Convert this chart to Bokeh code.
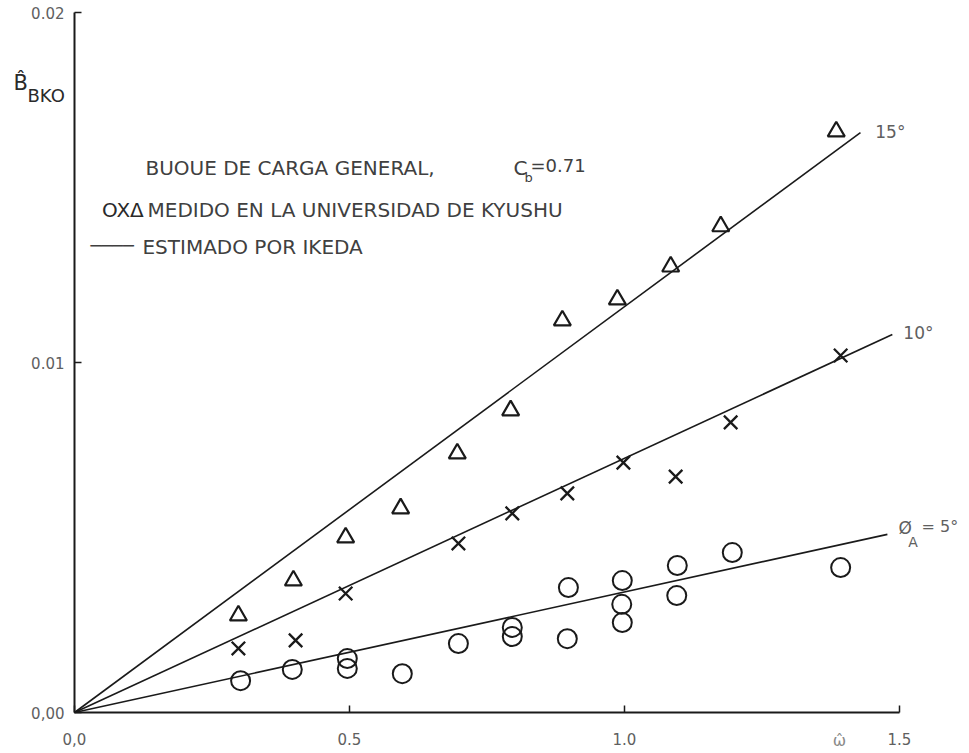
from bokeh.plotting import figure
from bokeh.models import Range1d, Label, FixedTicker
from bokeh.embed import file_html
from bokeh.resources import INLINE

# ---- data ----
# measured, phi_A = 15 deg (triangles)
tri_x = [0.298, 0.398, 0.493, 0.593, 0.696, 0.793, 0.887, 0.987, 1.084, 1.175, 1.385]
tri_y = [0.00277, 0.00377, 0.00500, 0.00583, 0.00740, 0.00863, 0.01120, 0.01180, 0.01274, 0.01389, 0.01660]
# measured, phi_A = 10 deg (crosses)
crs_x = [0.298, 0.402, 0.493, 0.698, 0.796, 0.896, 0.998, 1.093, 1.193, 1.393]
crs_y = [0.00183, 0.00206, 0.00340, 0.00483, 0.00569, 0.00626, 0.00714, 0.00674, 0.00829, 0.01020]
# measured, phi_A = 5 deg (circles)
cir_x = [0.302, 0.396, 0.496, 0.496, 0.596, 0.698, 0.796, 0.796, 0.898, 0.896,
         0.996, 0.995, 0.996, 1.096, 1.095, 1.196, 1.393]
cir_y = [0.00091, 0.00123, 0.00154, 0.00126, 0.00111, 0.00197, 0.00243, 0.00217, 0.00357, 0.00211,
         0.00377, 0.00309, 0.00257, 0.00420, 0.00334, 0.00457, 0.00414]
# Ikeda estimates (straight lines from the origin)
ik15_x = [0.0, 1.429]
ik15_y = [0.0, 0.01657]
ik10_x = [0.0, 1.487]
ik10_y = [0.0, 0.01080]
ik05_x = [0.0, 1.478]
ik05_y = [0.0, 0.00509]

x_ticks = [0.0, 0.5, 1.0, 1.5]
x_tick_labels = ["0,0", "0.5", "1.0", "1.5"]
y_ticks = [0.0, 0.01, 0.02]
y_tick_labels = ["0,00", "0.01", "0.02"]

FONT = "DejaVu Sans"
INK = "#1a1a1a"
TXT = "#404040"
LIGHT = "#606060"

# frame fills the whole figure; axes are pinned at the origin
p = figure(width=969, height=753, output_backend="svg", toolbar_location=None,
           x_range=Range1d(-74 / 550, 895 / 550),
           y_range=Range1d(-41 / 35000, 712 / 35000))
p.min_border = 0
p.outline_line_color = None
p.background_fill_color = "white"
p.border_fill_color = "white"
p.xgrid.visible = False
p.ygrid.visible = False

for ax in (p.xaxis[0], p.yaxis[0]):
    ax.fixed_location = 0
    ax.axis_line_width = 2
    ax.axis_line_color = INK
    ax.major_tick_in = 7
    ax.major_tick_out = 0
    ax.major_tick_line_width = 1.5
    ax.major_tick_line_color = INK
    ax.minor_tick_line_color = None
    ax.major_label_text_font = FONT
    ax.major_label_text_font_size = "15px"
    ax.major_label_text_color = LIGHT

p.xaxis[0].bounds = (0, 1.5)
p.xaxis[0].ticker = FixedTicker(ticks=x_ticks)
p.xaxis[0].major_label_overrides = dict(zip(x_ticks, x_tick_labels))
p.xaxis[0].major_label_standoff = 20

p.yaxis[0].bounds = (0, 0.02)
p.yaxis[0].ticker = FixedTicker(ticks=y_ticks)
p.yaxis[0].major_label_overrides = dict(zip(y_ticks, y_tick_labels))
p.yaxis[0].major_label_standoff = 10

# Ikeda estimate lines
for xs, ys in ((ik15_x, ik15_y), (ik10_x, ik10_y), (ik05_x, ik05_y)):
    p.line(xs, ys, line_color=INK, line_width=1.6)

# measured points
p.scatter(tri_x, tri_y, marker="triangle", size=17, fill_color=None,
          line_color=INK, line_width=2.2)
p.scatter(crs_x, crs_y, marker="x", size=19, line_color=INK, line_width=2.3)
p.scatter(cir_x, cir_y, marker="circle", size=19, fill_color=None,
          line_color=INK, line_width=2)


def lab(x, y, text, size, color=TXT, align="left", baseline="middle", font=FONT):
    p.add_layout(Label(x=x, y=y, text=text, text_font=font, text_font_size=size,
                       text_color=color, text_align=align, text_baseline=baseline))


# y axis title  B^_BKO
lab(-0.111, 0.01800, "B\u0302", "21px", color="#2a2a2a")
lab(-0.0855, 0.01763, "BKO", "18px", color="#2a2a2a")

# key block
lab(0.129, 0.01557, "BUOUE DE CARGA GENERAL,", "20px")
lab(0.798, 0.01557, "C", "20px")
lab(0.818, 0.01530, "b", "13px")
lab(0.829, 0.01563, "=0.71", "18px")
lab(0.126, 0.01437, "OX\u0394", "20px", color="#2a2a2a", align="right")
lab(0.1327, 0.01437, "MEDIDO EN LA UNIVERSIDAD DE KYUSHU", "20px")
lab(0.029, 0.01334, "\u2500\u2500\u2500\u2500", "18px", font="DejaVu Sans Mono")
lab(0.1236, 0.01331, "ESTIMADO POR IKEDA", "20px")

# angle labels
lab(1.456, 0.01660, "15°", "17px", color=LIGHT)
lab(1.507, 0.01083, "10°", "17px", color=LIGHT)
lab(1.498, 0.00526, "\u00d8", "17px", color=LIGHT)
lab(1.516, 0.00486, "A", "14px", color=LIGHT)
lab(1.540, 0.00531, "= 5°", "16px", color=LIGHT)

# abscissa symbol
lab(1.391, -0.00080, "\u03c9\u0302", "16px", color="#8a8a8a", align="center")

open("out.html", "w").write(file_html(p, INLINE))
